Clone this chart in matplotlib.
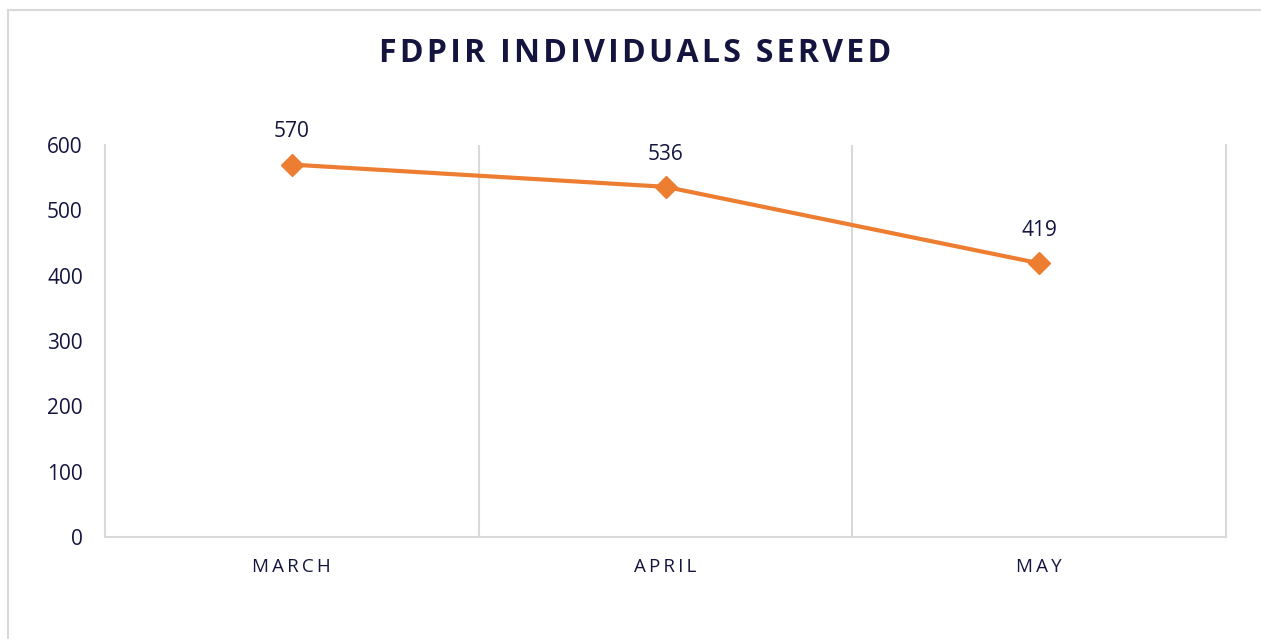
import matplotlib.pyplot as plt
from matplotlib.patches import Rectangle

months = ["MARCH", "APRIL", "MAY"]
served = [570, 536, 419]
y_ticks = [0, 100, 200, 300, 400, 500, 600]
title = "FDPIR INDIVIDUALS SERVED"

navy = "#14143f"
orange = "#ed7d31"
grid = "#d9d9d9"

plt.rcParams['font.family'] = ['Open Sans', 'DejaVu Sans']

fig = plt.figure(figsize=(12.61, 6.39), dpi=100)
ax = fig.add_axes([105 / 1261, 102 / 639, 1121 / 1261, 392 / 639])

x = list(range(len(months)))
ax.plot(x, served, color=orange, linewidth=3, marker="D", markersize=11,
        solid_capstyle="round", zorder=3)
for xi, v in zip(x, served):
    ax.annotate(str(v), (xi, v), xytext=(0, 16), textcoords="offset points",
                ha="center", va="bottom", fontsize=15, color=navy)

ax.set_xlim(-0.5, len(months) - 0.5)
ax.set_ylim(0, 600)
ax.set_yticks(y_ticks)
ax.set_xticks(x)
ax.set_xticklabels(["\u2009".join(m) for m in months], fontsize=13.5, color=navy)
ax.tick_params(axis="y", labelsize=15, labelcolor=navy, length=0, pad=16)
ax.tick_params(axis="x", length=0, pad=15)

# vertical gridlines at category boundaries
for b in [0.5 + i for i in range(len(months) - 1)]:
    ax.axvline(b, color=grid, linewidth=1.5, zorder=1)
for side in ["left", "right", "bottom"]:
    ax.spines[side].set_color(grid)
    ax.spines[side].set_linewidth(1.5)
ax.spines["top"].set_visible(False)

# letter-spaced title
fig.text(0.5035, 1 - 54 / 639, "\u200a".join(title),
         ha="center", va="center", fontsize=23, fontweight="bold", color=navy)

fig.patches.append(Rectangle((8 / 1261, -0.1), 1.2, 1 - 10 / 639 + 0.1,
                             transform=fig.transFigure, fill=False,
                             edgecolor=grid, linewidth=1.5))

fig.savefig("out.png", dpi=100)
